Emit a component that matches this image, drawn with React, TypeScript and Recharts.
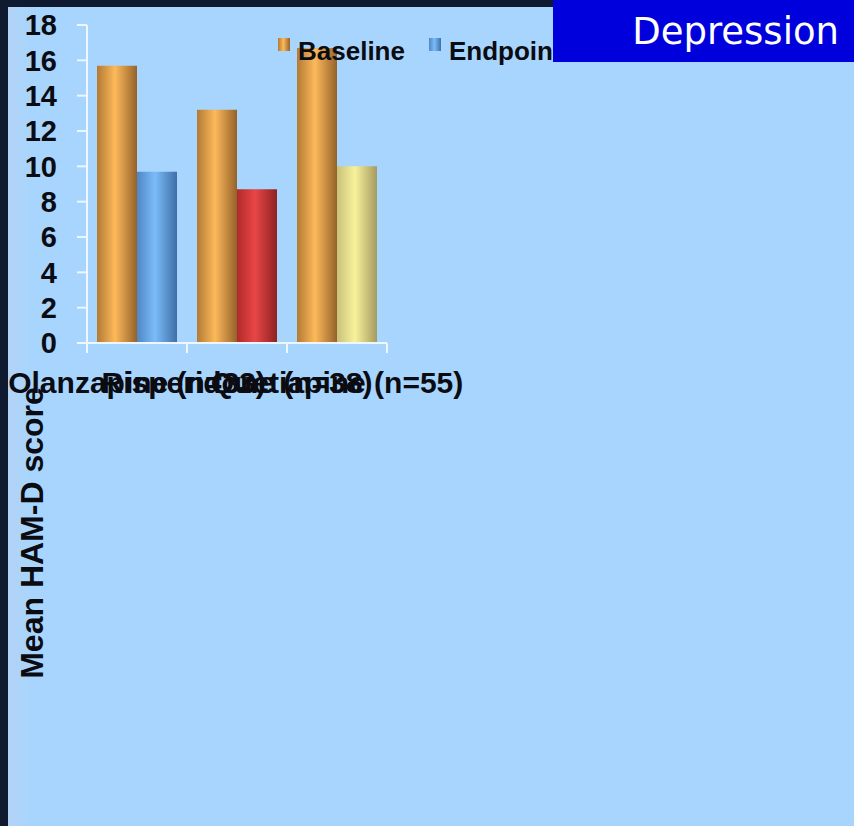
import { Bar, BarChart, Cell, Legend, XAxis, YAxis } from "recharts";

// HAM-D scores per treatment group
const GROUPS = ["Olanzapine (n=33)", "Risperidone (n=38)", "Quetiapine (n=55)"];
const BASELINE = [15.7, 13.2, 16.7];
const ENDPOINT = [9.7, 8.7, 10.0];
const Y_TICKS = [0, 2, 4, 6, 8, 10, 12, 14, 16, 18];
const SERIES = ["Baseline", "Endpoint"];

const rows = GROUPS.map((group, i) => ({
  group,
  baseline: BASELINE[i],
  endpoint: ENDPOINT[i],
}));

// each endpoint bar gets its own colour
const ENDPOINT_FILLS = ["url(#barBlue)", "url(#barRed)", "url(#barYellow)"];

const LEGEND_SWATCH = [
  "linear-gradient(90deg,#b27a34,#fdb95a 45%,#94622a)",
  "linear-gradient(90deg,#4f86c6,#7abcf8 45%,#3f6fa6)",
];

const AXIS_WHITE = "#eef6ff";
const INK = "#0b0b12";
const SANS = "'Liberation Sans', Arial, sans-serif";

function Cylinder({ id, edge, light, dark }: { id: string; edge: string; light: string; dark: string }) {
  return (
    <linearGradient id={id} x1="0" y1="0" x2="1" y2="0">
      <stop offset="0%" stopColor={edge} />
      <stop offset="45%" stopColor={light} />
      <stop offset="100%" stopColor={dark} />
    </linearGradient>
  );
}

// category label plus the boundary tick marks between groups
function GroupTick(props: any) {
  const { x, y, payload, index } = props;
  const half = payload?.offset ?? 50;
  const top = y - 29;
  return (
    <g>
      {index === 0 && (
        <line x1={x - half} x2={x - half} y1={top} y2={top + 10} stroke={AXIS_WHITE} strokeWidth={2} />
      )}
      <line x1={x + half} x2={x + half} y1={top} y2={top + 10} stroke={AXIS_WHITE} strokeWidth={2} />
      <text x={x} y={y} dy="0.71em" textAnchor="middle" fill={INK} fontSize={30} fontWeight={700} fontFamily={SANS}>
        {payload.value}
      </text>
    </g>
  );
}

function LegendBox() {
  return (
    <div
      style={{
        display: "flex",
        alignItems: "center",
        fontFamily: SANS,
        fontWeight: 700,
        fontSize: 26,
        color: INK,
        whiteSpace: "nowrap",
      }}
    >
      {SERIES.map((name, i) => (
        <div key={name} style={{ display: "flex", alignItems: "center", marginRight: 24 }}>
          <span
            style={{
              width: 12,
              height: 13,
              background: LEGEND_SWATCH[i],
              marginRight: 8,
              alignSelf: "flex-start",
              marginTop: 2,
            }}
          />
          <span>{name}</span>
        </div>
      ))}
    </div>
  );
}

export default function App() {
  return (
    <div style={{ position: "relative", width: 854, height: 826, background: "#0f1a31", overflow: "hidden" }}>
      <style>{`body{margin:0}`}</style>
      <div
        style={{
          position: "absolute",
          left: 8,
          top: 7,
          width: 846,
          height: 819,
          background: "linear-gradient(90deg,#b3d3f6 0px,#a8d5fd 22px,#a8d5fd 100%)",
          overflow: "hidden",
        }}
      >
        <div style={{ position: "absolute", left: -8, top: -7 }}>
          <BarChart
            width={854}
            height={826}
            data={rows}
            margin={{ top: 25, right: 467, left: 0, bottom: 423 }}
            barCategoryGap="10%"
            barGap={0}
          >
            <defs>
              <Cylinder id="barOrange" edge="#b27a34" light="#fdb95a" dark="#94622a" />
              <Cylinder id="barBlue" edge="#4f86c6" light="#7abcf8" dark="#3f6fa6" />
              <Cylinder id="barRed" edge="#b02a2a" light="#e84646" dark="#8c2222" />
              <Cylinder id="barYellow" edge="#c9c07a" light="#f8f29c" dark="#a39a5e" />
            </defs>
            <XAxis
              dataKey="group"
              interval={0}
              height={60}
              axisLine={{ stroke: AXIS_WHITE, strokeWidth: 2 }}
              tickLine={false}
              tickSize={10}
              tickMargin={19}
              tick={<GroupTick />}
            />
            <YAxis
              width={87}
              domain={[0, 18]}
              ticks={Y_TICKS}
              interval={0}
              axisLine={{ stroke: AXIS_WHITE, strokeWidth: 2 }}
              tickLine={{ stroke: AXIS_WHITE, strokeWidth: 2 }}
              tickSize={10}
              tickMargin={20}
              tick={{ fill: INK, fontSize: 29, fontWeight: 700, fontFamily: SANS }}
            />
            <Legend
              layout="horizontal"
              verticalAlign="middle"
              align="center"
              content={() => <LegendBox />}
              wrapperStyle={{ left: 278, top: 36, width: 400 }}
            />
            <Bar dataKey="baseline" name={SERIES[0]} fill="url(#barOrange)" isAnimationActive={false} />
            <Bar dataKey="endpoint" name={SERIES[1]} fill="url(#barBlue)" isAnimationActive={false}>
              {rows.map((row, i) => (
                <Cell key={row.group} fill={ENDPOINT_FILLS[i]} />
              ))}
            </Bar>
          </BarChart>
          <svg width={80} height={826} style={{ position: "absolute", left: 0, top: 0, pointerEvents: "none" }}>
            <text
              x={43}
              y={533}
              transform="rotate(-90 43 533)"
              textAnchor="middle"
              fill={INK}
              fontSize={32}
              fontWeight={700}
              fontFamily={SANS}
            >
              Mean HAM-D score
            </text>
          </svg>
        </div>
      </div>
      <div
        style={{
          position: "absolute",
          left: 553,
          top: 0,
          width: 301,
          height: 62,
          background: "#0000dc",
          color: "#ffffff",
          fontFamily: "'DejaVu Sans', Verdana, sans-serif",
          fontSize: 37,
          display: "flex",
          alignItems: "center",
          justifyContent: "flex-end",
          paddingRight: 15,
          boxSizing: "border-box",
        }}
      >
        Depression
      </div>
    </div>
  );
}
